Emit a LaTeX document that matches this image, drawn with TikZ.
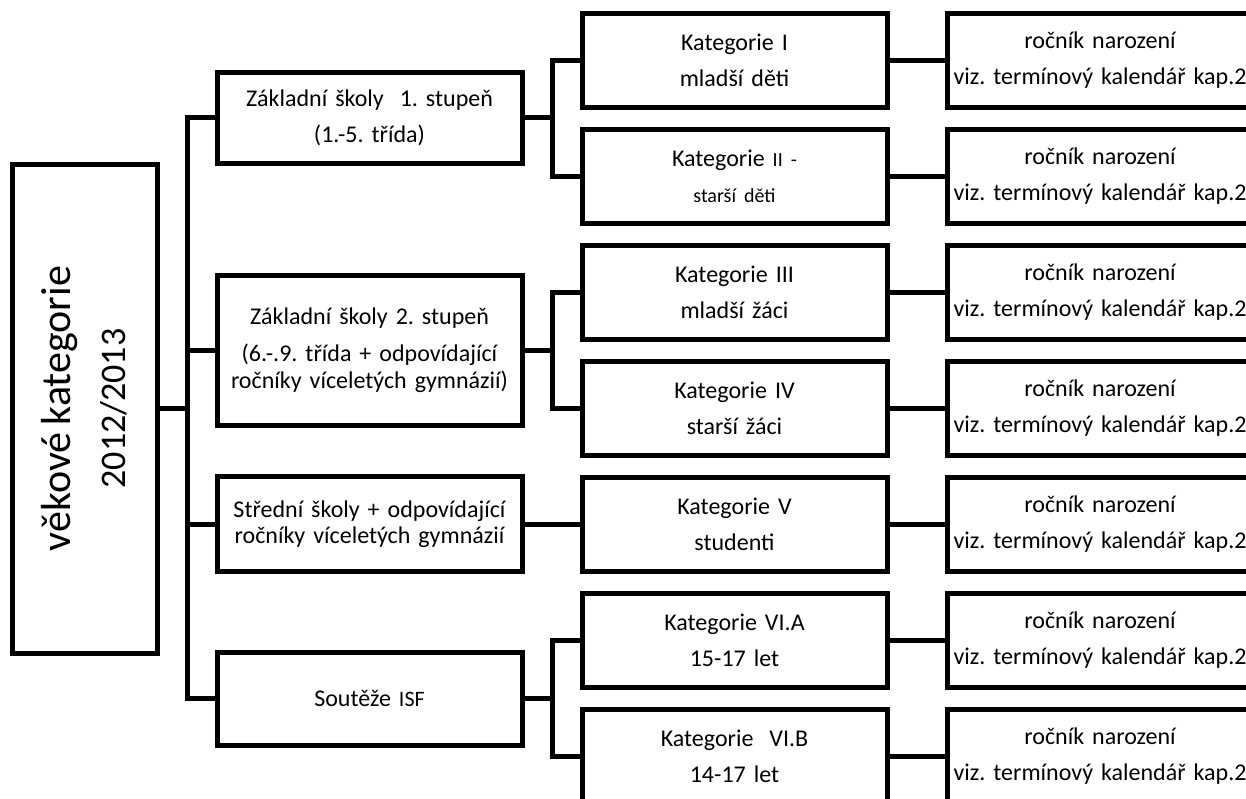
\documentclass[tikz,border=0pt]{standalone}
\usepackage{fontspec}
\setmainfont{Carlito}[WordSpace=0.75]
\usetikzlibrary{positioning}
\frenchspacing

\tikzset{
  box/.style={draw, line width=5pt, minimum width=305pt, inner sep=0pt,
    text width=300pt, align=center, font=\fontsize{24}{36}\selectfont},
  catbox/.style={box, minimum height=94pt},
  datebox/.style={box, minimum width=306pt, minimum height=94pt},
  conn/.style={line width=5pt},
}

\begin{document}
\begin{tikzpicture}[x=1pt,y=-1pt]
  \useasboundingbox (0,0) rectangle (1246,798);

  % root
  \node[draw, line width=5pt, minimum width=145pt, minimum height=489pt] (root) at (84.5,408.5) {};
  \node[rotate=90, align=center, inner sep=0pt] (roottext) at (root.center)
    {\fontsize{42}{50}\selectfont věkové kategorie\\[22pt]\fontsize{36}{50}\selectfont 2012/2013};

  % school levels
  \node[box, minimum height=91pt] (zs1) at (369.5,117.5) {Základní školy~ 1. stupeň\\(1.-5. třída)};
  \node[box, minimum height=150pt, font=\fontsize{24}{27}\selectfont] (zs2) at (369.5,350)
    {Základní školy 2. stupeň\\[10pt](6.-.9. třída + odpovídající\\ročníky víceletých gymnázií)};
  \node[box, minimum height=95pt, font=\fontsize{24}{26}\selectfont] (ss) at (369.5,524)
    {Střední školy + odpovídající\\ročníky víceletých gymnázií};
  \node[box, minimum height=93pt] (isf) at (369.5,698.5) {Soutěže {\fontsize{22}{26}\selectfont ISF}};

  % categories
  \node[catbox] (k1) at (734.5,60) {Kategorie I\\mladší děti};
  \node[catbox] (k2) at (734.5,176) {Kategorie {\fontsize{20}{36}\selectfont II -}\\{\fontsize{20}{36}\selectfont starší děti}};
  \node[catbox] (k3) at (734.5,292) {Kategorie III\\mladší žáci};
  \node[catbox] (k4) at (734.5,408) {Kategorie IV\\starší žáci};
  \node[catbox] (k5) at (734.5,524) {Kategorie V\\studenti};
  \node[catbox] (k6) at (734.5,640) {Kategorie VI.A\\15-17 let};
  \node[catbox] (k7) at (734.5,756) {Kategorie~ VI.B\\14-17 let};

  % birth years
  \foreach \i/\y in {1/60,2/176,3/292,4/408,5/524,6/640,7/756}
    \node[datebox] (r\i) at (1100,\y) {ročník narození\\viz. termínový kalendář kap.2};

  % connectors
  \coordinate (trunk) at (187,0);
  \coordinate (fork) at (552,0);
  \draw[conn] (root.east) -- (root.east -| trunk);
  \draw[conn] (zs1.west) -- (zs1.west -| trunk) -- (isf.west -| trunk) -- (isf.west);
  \draw[conn] (zs2.west) -- (zs2.west -| trunk);
  \draw[conn] (ss.west) -- (ss.west -| trunk);

  \draw[conn] (k1.west) -- (k1.west -| fork) -- (k2.west -| fork) -- (k2.west);
  \draw[conn] (zs1.east) -- (zs1.east -| fork);
  \draw[conn] (k3.west) -- (k3.west -| fork) -- (k4.west -| fork) -- (k4.west);
  \draw[conn] (zs2.east) -- (zs2.east -| fork);
  \draw[conn] (ss.east) -- (k5.west);
  \draw[conn] (k6.west) -- (k6.west -| fork) -- (k7.west -| fork) -- (k7.west);
  \draw[conn] (isf.east) -- (isf.east -| fork);

  \foreach \i in {1,...,7}
    \draw[conn] (k\i.east) -- (r\i.west);
\end{tikzpicture}
\end{document}
